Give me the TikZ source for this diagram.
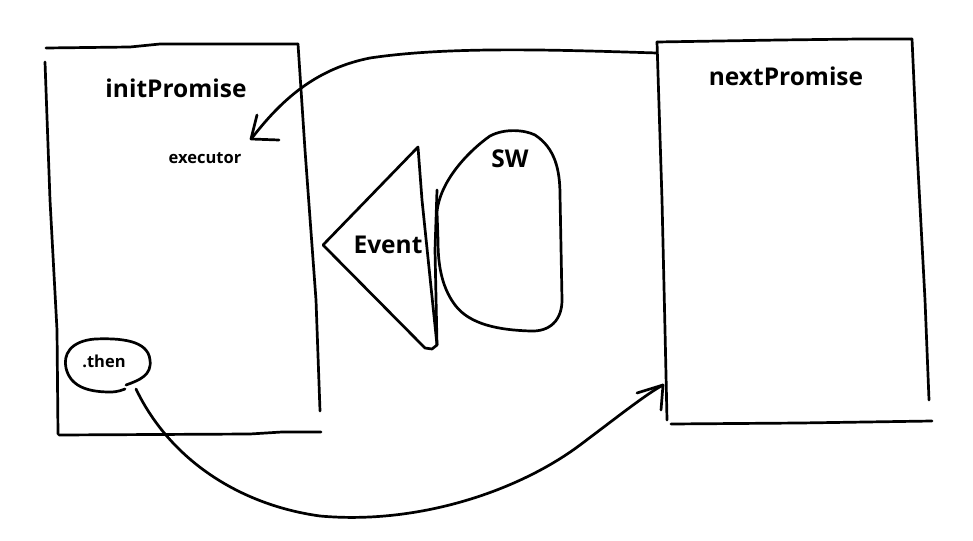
\documentclass[tikz,border=0pt]{standalone}
\usepackage{fontspec}
\setmainfont{Open Sans}
\begin{document}
\begin{tikzpicture}[x=1pt,y=-1pt,
  pen/.style={line width=2.7pt,line cap=round,line join=round},
  big/.style={font=\fontsize{24.5}{28}\selectfont\bfseries,inner sep=0pt},
  small/.style={font=\fontsize{16.5}{19}\selectfont\bfseries,inner sep=0pt}]
\useasboundingbox[fill=white] (0,0) rectangle (973,540);
% left box
\draw[pen] (46,48) -- (130,47) -- (160,44) -- (298,44);
\draw[pen] (45,62) -- (50,200) -- (57,330) -- (58,434);
\draw[pen] (298,44) -- (305,150) -- (316,300) -- (320,411);
\draw[pen] (59,435) -- (250,434) -- (282,432) -- (321,432);
% right box
\draw[pen] (657,42) -- (780,40) -- (860,39) -- (912,39);
\draw[pen] (657,42) -- (662,200) -- (665,330) -- (667,420);
\draw[pen] (912,39) -- (917,150) -- (925,300) -- (929,400);
\draw[pen] (671,424) -- (800,423) -- (932,421);
% texts
\node[big] (init) at (176,88) {initPromise};
\node[big] (next) at (786,76) {nextPromise};
\node[small] (exec) at (205,158) {executor};
\node[big] (event) at (388,245) {Event};
\node[big] (sw) at (510,159) {SW};
\node[small] (then) at (104,361) {.then};
% triangle
\draw[pen] (323,245) -- (418,147) -- (422,200) -- (437,345) -- (432,349) -- (425,348) -- cycle;
\draw[pen] (437,345) -- (435,250) -- (437,190);
% SW shape
\draw[pen] (437,212) .. controls (440,180) and (470,150) .. (490,136)
  .. controls (505,128) and (525,130) .. (535,135)
  .. controls (555,148) and (560,170) .. (560,195)
  -- (562,300) .. controls (562,320) and (550,332) .. (530,331)
  .. controls (500,330) and (470,325) .. (455,305)
  .. controls (440,285) and (438,260) .. (438,240) -- cycle;
% .then ellipse
\draw[pen] (126,385) .. controls (140,380) and (152,375) .. (150,360)
  .. controls (148,340) and (120,338) .. (95,339)
  .. controls (70,341) and (63,355) .. (66,368)
  .. controls (70,385) and (85,392) .. (110,392)
  .. controls (118,392) and (122,390) .. (125,389);
% arrow top
\coordinate (a1s) at (657,53);
\coordinate (a1e) at (252,138);
\draw[pen] (a1s) .. controls (560,50) and (450,46) .. (370,58)
  .. controls (320,68) and (285,95) .. (a1e);
\draw[pen] (257,115) -- (251,139) -- (279,140);
% arrow bottom
\coordinate (a2s) at (136,389);
\coordinate (a2e) at (663,385);
\draw[pen] (a2s) .. controls (170,460) and (240,505) .. (320,516)
  .. controls (420,525) and (520,490) .. (580,445)
  .. controls (620,415) and (645,395) .. (a2e);
\draw[pen] (637,393) -- (663,385) -- (661,410);
\end{tikzpicture}
\end{document}
